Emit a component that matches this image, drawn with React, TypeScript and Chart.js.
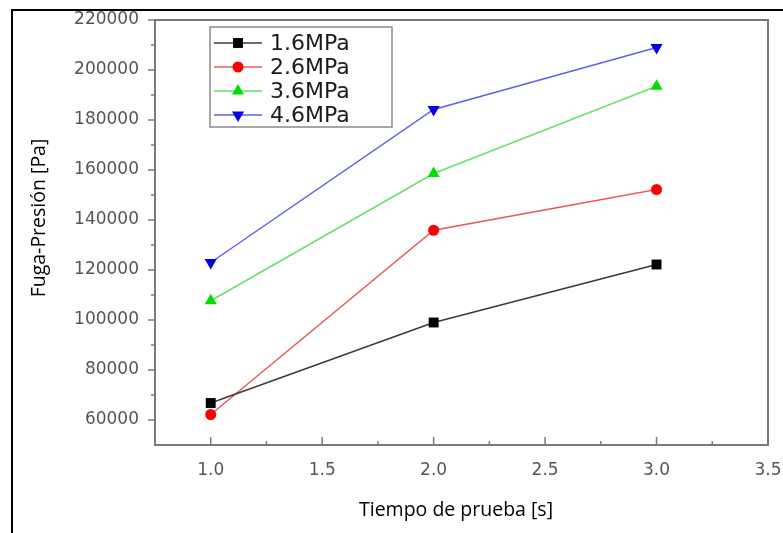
import React, { useEffect, useRef } from "react";
import { Chart, registerables } from "chart.js";

Chart.register(...registerables);

const xValues = [1.0, 2.0, 3.0];
const series16 = [66800, 99000, 122200];
const series26 = [62200, 135900, 152200];
const series36 = [107700, 158600, 193500];
const series46 = [123000, 184200, 209000];
const seriesLabels = ["1.6MPa", "2.6MPa", "3.6MPa", "4.6MPa"];
const xTicks = [1.0, 1.5, 2.0, 2.5, 3.0, 3.5];
const xMinorTicks = [1.25, 1.75, 2.25, 2.75, 3.25];
const yTicks = [60000, 80000, 100000, 120000, 140000, 160000, 180000, 200000, 220000];
const yMinorTicks = [70000, 90000, 110000, 130000, 150000, 170000, 190000, 210000];
const xTitle = "Tiempo de prueba [s]";
const yTitle = "Fuga-Presión [Pa]";

const toPoints = (ys: number[]) => xValues.map((x, i) => ({ x, y: ys[i] }));

function drawMarker(ctx: CanvasRenderingContext2D, style: string, x: number, y: number, r: number, rot: number) {
  ctx.beginPath();
  if (style === "circle") {
    ctx.arc(x, y, r, 0, Math.PI * 2);
  } else if (style === "rect") {
    const s = Math.SQRT1_2 * r;
    ctx.rect(x - s, y - s, 2 * s, 2 * s);
  } else if (style === "triangle") {
    let rad = (rot * Math.PI) / 180;
    ctx.moveTo(x + Math.sin(rad) * r, y - Math.cos(rad) * r);
    rad += (2 * Math.PI) / 3;
    ctx.lineTo(x + Math.sin(rad) * r, y - Math.cos(rad) * r);
    rad += (2 * Math.PI) / 3;
    ctx.lineTo(x + Math.sin(rad) * r, y - Math.cos(rad) * r);
    ctx.closePath();
  }
  ctx.fill();
}

const decorPlugin = {
  id: "decor",
  afterDraw(chart: any) {
    const ctx = chart.ctx;
    const { left, right, top, bottom } = chart.chartArea;
    const xs = chart.scales.x;
    const ys = chart.scales.y;
    ctx.save();
    // plot frame
    ctx.strokeStyle = "#7a7a7a";
    ctx.lineWidth = 2;
    ctx.strokeRect(left, top, right - left, bottom - top);
    // y ticks (outside)
    ctx.lineWidth = 1.5;
    yTicks.forEach((v) => {
      const py = ys.getPixelForValue(v);
      ctx.beginPath();
      ctx.moveTo(left - 7, py);
      ctx.lineTo(left, py);
      ctx.stroke();
    });
    yMinorTicks.forEach((v) => {
      const py = ys.getPixelForValue(v);
      ctx.beginPath();
      ctx.moveTo(left - 4, py);
      ctx.lineTo(left, py);
      ctx.stroke();
    });
    // x ticks (inside)
    xTicks.forEach((v) => {
      const px = xs.getPixelForValue(v);
      ctx.beginPath();
      ctx.moveTo(px, bottom);
      ctx.lineTo(px, bottom - 8);
      ctx.stroke();
    });
    xMinorTicks.forEach((v) => {
      const px = xs.getPixelForValue(v);
      ctx.beginPath();
      ctx.moveTo(px, bottom);
      ctx.lineTo(px, bottom - 4);
      ctx.stroke();
    });

    // axis titles
    ctx.fillStyle = "#000";
    ctx.font = '19.5px "Open Sans"';
    ctx.textAlign = "center";
    ctx.textBaseline = "middle";
    ctx.fillText(xTitle, 456, 510);
    ctx.save();
    ctx.translate(39, 218);
    ctx.rotate(-Math.PI / 2);
    ctx.fillText(yTitle, 0, 0);
    ctx.restore();

    // legend
    const bx = 210, by = 27, bw = 182, bh = 100;
    ctx.fillStyle = "#fff";
    ctx.fillRect(bx, by, bw, bh);
    ctx.strokeStyle = "#8a8a8a";
    ctx.lineWidth = 1.5;
    ctx.strokeRect(bx, by, bw, bh);
    chart.data.datasets.forEach((ds: any, i: number) => {
      const cy = 43 + i * 24;
      ctx.strokeStyle = ds.borderColor;
      ctx.lineWidth = 1.5;
      ctx.beginPath();
      ctx.moveTo(214, cy);
      ctx.lineTo(262, cy);
      ctx.stroke();
      ctx.save();
      ctx.fillStyle = ds.pointBackgroundColor;
      drawMarker(ctx, ds.pointStyle, 238, cy, ds.pointRadius, ds.pointRotation || 0);
      ctx.restore();
      ctx.fillStyle = "#1a1a1a";
      ctx.font = '22px "DejaVu Sans"';
      ctx.textAlign = "left";
      ctx.textBaseline = "middle";
      ctx.fillText(ds.label, 270, cy + 1);
    });

    // outer image frame
    ctx.strokeStyle = "#000";
    ctx.lineWidth = 2;
    ctx.beginPath();
    ctx.moveTo(12, 533);
    ctx.lineTo(12, 10);
    ctx.lineTo(783, 10);
    ctx.stroke();
    ctx.restore();
  },
};

export default function App() {
  const canvasRef = useRef<HTMLCanvasElement | null>(null);

  useEffect(() => {
    if (!canvasRef.current) return;
    const chart = new Chart(canvasRef.current, {
      type: "line",
      data: {
        datasets: [
          {
            label: seriesLabels[0],
            data: toPoints(series16),
            borderColor: "#3a3a3a",
            borderWidth: 1.5,
            pointStyle: "rect",
            pointRadius: 7,
            pointBackgroundColor: "#000000",
            pointBorderColor: "#000000",
            pointBorderWidth: 0,
          },
          {
            label: seriesLabels[1],
            data: toPoints(series26),
            borderColor: "#e85a5a",
            borderWidth: 1.5,
            pointStyle: "circle",
            pointRadius: 5.5,
            pointBackgroundColor: "#ff0000",
            pointBorderColor: "#ff0000",
            pointBorderWidth: 0,
          },
          {
            label: seriesLabels[2],
            data: toPoints(series36),
            borderColor: "#66e066",
            borderWidth: 1.5,
            pointStyle: "triangle",
            pointRadius: 7,
            pointBackgroundColor: "#00e000",
            pointBorderColor: "#00e000",
            pointBorderWidth: 0,
          },
          {
            label: seriesLabels[3],
            data: toPoints(series46),
            borderColor: "#6060ee",
            borderWidth: 1.5,
            pointStyle: "triangle",
            pointRotation: 180,
            pointRadius: 7,
            pointBackgroundColor: "#0000e0",
            pointBorderColor: "#0000e0",
            pointBorderWidth: 0,
          },
        ] as any,
      },
      options: {
        responsive: false,
        animation: false,
        devicePixelRatio: 1,
        layout: { padding: { left: 0, top: 20, right: 15, bottom: 0 } },
        plugins: {
          legend: { display: false },
          tooltip: { enabled: false },
        },
        scales: {
          x: {
            type: "linear",
            min: 0.75,
            max: 3.5,
            grid: { display: false, drawTicks: false },
            border: { display: false },
            afterBuildTicks: (scale: any) => {
              scale.ticks = xTicks.map((v) => ({ value: v }));
            },
            afterFit: (scale: any) => {
              scale.height = 88;
              scale.paddingLeft = 0;
              scale.paddingRight = 0;
            },
            ticks: {
              autoSkip: false,
              maxRotation: 0,
              padding: 15,
              color: "#555",
              font: { family: "DejaVu Sans", size: 17 },
              callback: (v: any) => Number(v).toFixed(1),
            },
          },
          y: {
            type: "linear",
            min: 50000,
            max: 220000,
            grid: { display: false, drawTicks: false },
            border: { display: false },
            afterBuildTicks: (scale: any) => {
              scale.ticks = yTicks.map((v) => ({ value: v }));
            },
            afterFit: (scale: any) => {
              scale.width = 155;
              scale.paddingTop = 0;
              scale.paddingBottom = 0;
            },
            ticks: {
              autoSkip: false,
              padding: 16,
              color: "#555",
              font: { family: "DejaVu Sans", size: 17 },
              callback: (v: any) => String(v),
            },
          },
        },
      } as any,
      plugins: [decorPlugin],
    });
    return () => chart.destroy();
  }, []);

  return (
    <div style={{ position: "absolute", left: 0, top: 0, width: 783, height: 533, background: "#fff" }}>
      <canvas ref={canvasRef} width={783} height={533} style={{ display: "block" }} />
    </div>
  );
}
